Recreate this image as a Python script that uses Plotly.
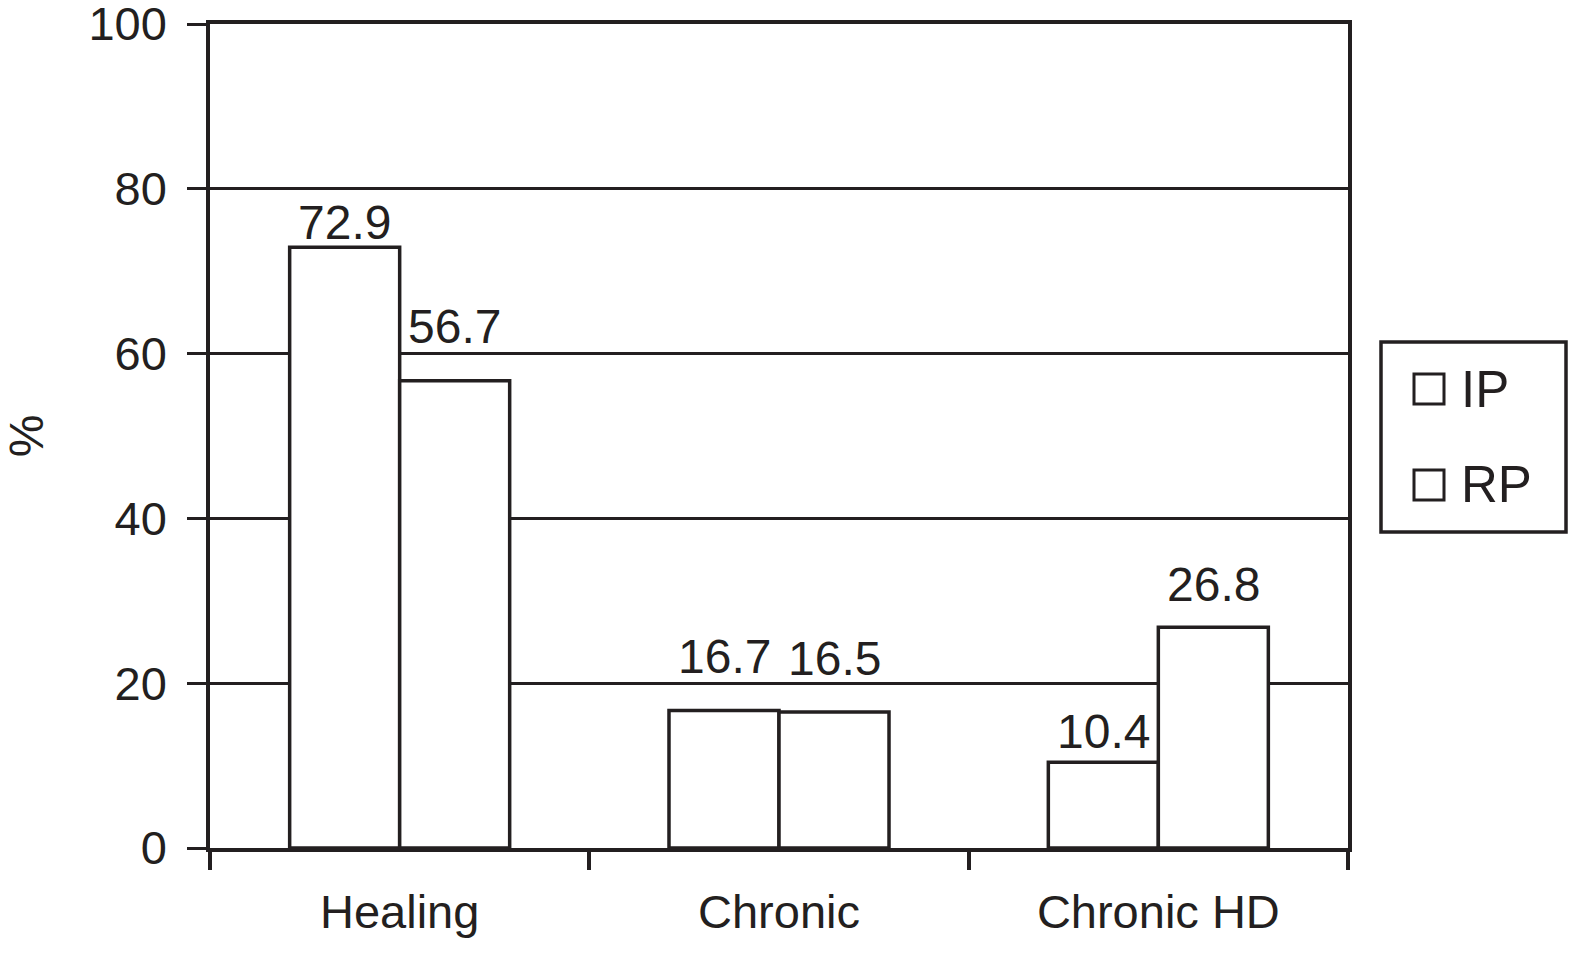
import plotly.graph_objects as go

categories = ["Healing", "Chronic", "Chronic HD"]
ip_values = [72.9, 16.7, 10.4]
rp_values = [56.7, 16.5, 26.8]
series_names = ["IP", "RP"]

# gap in px between bar top and its label (labels were nudged clear of gridlines)
ip_label_gap = [6, 35, 12]
rp_label_gap = [36, 35, 24]

INK = "#231f20"
FONT = "Liberation Sans, Arial, sans-serif"

W, H = 1570, 954
L, R, T, B = 210, 1348, 24, 848


def px_x(x):
    return (x - L) / (R - L)


def px_y(y):
    return (B - y) / (B - T)


fig = go.Figure()
annotations = []
for k, (name, vals, gaps) in enumerate(zip(series_names, [ip_values, rp_values],
                                           [ip_label_gap, rp_label_gap])):
    fig.add_trace(
        go.Bar(
            x=categories,
            y=vals,
            name=name,
            marker=dict(color="white", line=dict(color=INK, width=3.5)),
            showlegend=False,
        )
    )
    for c, v, g in zip(categories, vals, gaps):
        annotations.append(dict(
            x=c, y=v, text=f"{v:.1f}", showarrow=False,
            xanchor="center", yanchor="bottom",
            xshift=-55 if k == 0 else 55, yshift=g - 10,
            font=dict(size=48, color=INK, family=FONT),
        ))

# legend box drawn by hand so the symbol squares match the original size
shapes = [
    dict(type="rect", xref="paper", yref="paper",
         x0=px_x(1381), x1=px_x(1566), y0=px_y(532), y1=px_y(342),
         line=dict(color=INK, width=3.5), fillcolor="white"),
]
for i, name in enumerate(series_names):
    cy = 389 + i * 96
    shapes.append(dict(type="rect", xref="paper", yref="paper",
                       x0=px_x(1414), x1=px_x(1444), y0=px_y(cy + 15), y1=px_y(cy - 15),
                       line=dict(color=INK, width=3), fillcolor="white"))
    annotations.append(dict(text=name, xref="paper", yref="paper",
                            x=px_x(1459), y=px_y(cy), xanchor="left", yanchor="middle",
                            showarrow=False, font=dict(size=51, color=INK, family=FONT)))

fig.update_layout(
    width=W, height=H,
    barmode="group",
    bargap=0.42,
    bargroupgap=0,
    plot_bgcolor="white",
    paper_bgcolor="white",
    margin=dict(l=L, r=W - R, t=T, b=H - B, autoexpand=False),
    font=dict(family=FONT, color=INK, size=47),
    shapes=shapes,
    annotations=annotations,
)
fig.update_xaxes(
    showline=True, linecolor=INK, linewidth=3.5, mirror=True,
    ticks="outside", tickson="boundaries", ticklen=18, tickwidth=3.5, tickcolor=INK,
    ticklabelstandoff=20,
    tickfont=dict(size=47, color=INK, family=FONT),
    showgrid=False,
)
fig.update_yaxes(
    range=[0, 100], dtick=20,
    showline=True, linecolor=INK, linewidth=3.5, mirror=True,
    showgrid=True, gridcolor=INK, gridwidth=3,
    zeroline=False,
    ticks="outside", ticklen=19, tickwidth=3, tickcolor=INK,
    ticklabelstandoff=11, ticklabeloverflow="allow",
    tickfont=dict(size=47, color=INK, family=FONT),
    title=dict(text="%", font=dict(size=48, color=INK, family=FONT), standoff=74),
)

# drop the browser's default body margin so the figure fills the window
fig.write_html(
    "out.html",
    config={"displayModeBar": False},
    post_script="document.body.style.margin='0';",
)
